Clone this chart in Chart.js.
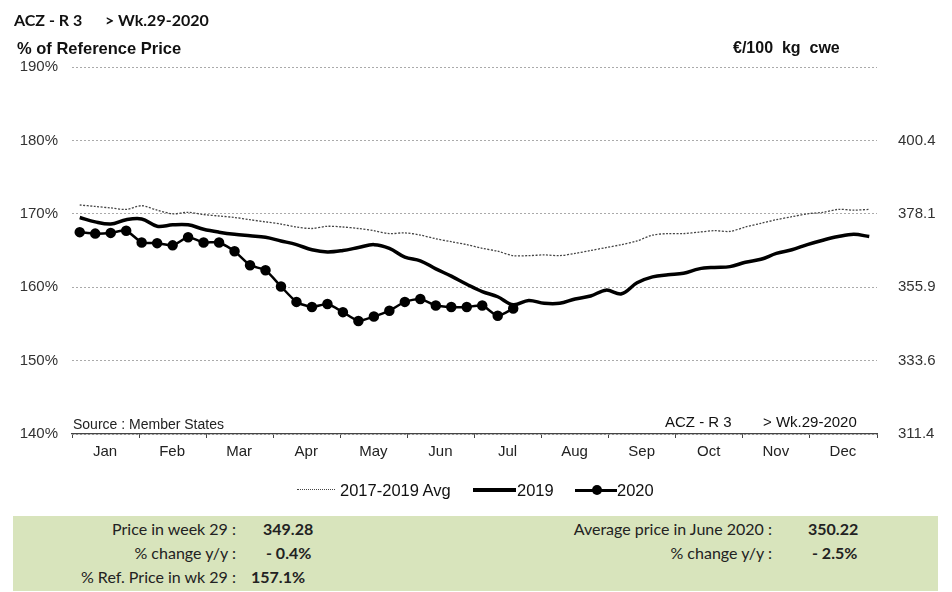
<!DOCTYPE html>
<html>
<head>
<meta charset="utf-8">
<script src="https://cdn.jsdelivr.net/npm/chart.js@4"></script>
<style>
  body { margin: 0; background: #fff; font-family: "Liberation Sans", Arial, sans-serif; }
  #wrap { position: relative; width: 952px; height: 592px; }
  #chart { position: absolute; left: 0; top: 0; }
  .txt { position: absolute; white-space: pre; color: #111; line-height: 1; }
  #info { position: absolute; left: 13px; top: 516px; width: 925px; height: 75px; background: #d8e4bc;
          font-family: Lato, "Open Sans", sans-serif; font-size: 16px; color: #222; }
  #info .lab { position: absolute; text-align: right; white-space: pre; line-height: 1; }
  #info .val { position: absolute; font-weight: bold; white-space: pre; line-height: 1; }
  .leg { position: absolute; }
</style>
</head>
<body>
<div id="wrap">
  <canvas id="chart" width="952" height="592"></canvas>
  <div class="txt" style="left:14px;top:10px;font:bold 16px Lato, sans-serif;">ACZ - R 3</div>
  <div class="txt" style="left:105px;top:10px;font:bold 16px Lato, sans-serif;">&gt; Wk.29-2020</div>
  <div class="txt" style="left:17px;top:39px;font:bold 16.5px 'Liberation Sans', Arial, sans-serif;">% of Reference Price</div>
  <div class="txt" style="left:733px;top:39px;font:bold 16px 'Liberation Sans', Arial, sans-serif;">€/100  kg  cwe</div>
  <div class="txt" style="left:73px;top:416px;font:14px 'Liberation Sans', Arial, sans-serif;color:#222;">Source : Member States</div>
  <div class="txt" style="left:665px;top:413px;font:15px 'Liberation Sans', Arial, sans-serif;">ACZ - R 3</div>
  <div class="txt" style="left:763px;top:413px;font:15px 'Liberation Sans', Arial, sans-serif;">&gt; Wk.29-2020</div>

  <div class="leg" style="left:297px;top:489px;width:38px;border-top:1.5px dotted #444;"></div>
  <div class="txt" style="left:340px;top:481px;font:16.5px 'Liberation Sans', Arial, sans-serif;">2017-2019 Avg</div>
  <div class="leg" style="left:473px;top:488px;width:43px;border-top:4px solid #000;"></div>
  <div class="txt" style="left:517px;top:481px;font:16.5px 'Liberation Sans', Arial, sans-serif;">2019</div>
  <div class="leg" style="left:575px;top:489px;width:42px;border-top:3px solid #000;"></div>
  <div class="leg" style="left:592px;top:485px;width:10px;height:10px;border-radius:50%;background:#000;"></div>
  <div class="txt" style="left:617px;top:481px;font:16.5px 'Liberation Sans', Arial, sans-serif;">2020</div>

  <div id="info">
    <div class="lab" style="right:702px;top:5px;">Price in week 29 :</div>
    <div class="val" style="left:250px;top:5px;">349.28</div>
    <div class="lab" style="right:702px;top:29px;">% change y/y :</div>
    <div class="val" style="left:253px;top:29px;">- 0.4%</div>
    <div class="lab" style="right:702px;top:53px;">% Ref. Price in wk 29 :</div>
    <div class="val" style="left:238px;top:53px;">157.1%</div>
    <div class="lab" style="right:166px;top:5px;">Average price in June 2020 :</div>
    <div class="val" style="left:795px;top:5px;">350.22</div>
    <div class="lab" style="right:166px;top:29px;">% change y/y :</div>
    <div class="val" style="left:799px;top:29px;">- 2.5%</div>
  </div>
</div>
<script>
const months = ['Jan', 'Feb', 'Mar', 'Apr', 'May', 'Jun', 'Jul', 'Aug', 'Sep', 'Oct', 'Nov', 'Dec'];
const weeks = [1,2,3,4,5,6,7,8,9,10,11,12,13,14,15,16,17,18,19,20,21,22,23,24,25,26,
  27,28,29,30,31,32,33,34,35,36,37,38,39,40,41,42,43,44,45,46,47,48,49,50,51,52];

// % of reference price, by week
const avg2017_2019 = [171.2, 171.0, 170.8, 170.6, 171.1, 170.5, 170.0, 170.2, 169.9, 169.7, 169.5, 169.2, 168.9,
  168.6, 168.2, 168.0, 168.3, 168.2, 168.0, 167.7, 167.3, 167.4, 167.1, 166.6, 166.2, 165.8,
  165.3, 164.9, 164.3, 164.3, 164.4, 164.3, 164.6, 165.0, 165.4, 165.8, 166.3, 167.1, 167.3,
  167.3, 167.5, 167.7, 167.6, 168.2, 168.7, 169.2, 169.6, 170.0, 170.2, 170.6, 170.5, 170.6];
const year2019 = [169.5, 168.9, 168.6, 169.2, 169.3, 168.3, 168.5, 168.5, 167.9, 167.5, 167.2, 167.0, 166.8,
  166.3, 165.8, 165.1, 164.8, 165.0, 165.4, 165.8, 165.3, 164.1, 163.6, 162.5, 161.5, 160.4,
  159.4, 158.7, 157.6, 158.2, 157.8, 157.8, 158.4, 158.8, 159.6, 159.1, 160.6, 161.4, 161.7,
  161.9, 162.5, 162.7, 162.8, 163.4, 163.8, 164.6, 165.1, 165.8, 166.4, 166.9, 167.2, 166.9];
const year2020 = [167.5, 167.3, 167.4, 167.7, 166.1, 166.0, 165.7, 166.8, 166.1, 166.1, 164.9, 163.0, 162.3,
  160.1, 158.0, 157.3, 157.7, 156.6, 155.4, 156.0, 156.8, 158.0, 158.4, 157.5, 157.3, 157.3,
  157.5, 156.1, 157.1];

const leftTicks = [140, 150, 160, 170, 180, 190];
const rightTicks = [311.4, 333.6, 355.9, 378.1, 400.4];

function toPoints(values) {
  return values.map((v, i) => ({ x: weeks[i] - 0.5, y: v }));
}

const monthEdges = months.map((m, i) => i * 52 / 12).concat([52]);
const fontTick = { family: "'Liberation Sans', Arial, sans-serif", size: 15 };

new Chart(document.getElementById('chart'), {
  type: 'line',
  data: {
    datasets: [
      {
        label: '2017-2019 Avg',
        data: toPoints(avg2017_2019),
        borderColor: '#444',
        borderWidth: 1.3,
        borderDash: [2, 1.5],
        pointRadius: 0,
        tension: 0.3
      },
      {
        label: '2019',
        data: toPoints(year2019),
        borderColor: '#000',
        borderWidth: 3.5,
        pointRadius: 0,
        tension: 0.35
      },
      {
        label: '2020',
        data: toPoints(year2020),
        borderColor: '#000',
        backgroundColor: '#000',
        borderWidth: 2.5,
        pointRadius: 4,
        pointBackgroundColor: '#000',
        tension: 0.2
      }
    ]
  },
  options: {
    responsive: false,
    animation: false,
    layout: { padding: { top: 67, bottom: 123, left: 0, right: 0 } },
    plugins: { legend: { display: false }, tooltip: { enabled: false } },
    scales: {
      x: {
        type: 'linear',
        min: 0,
        max: 52,
        afterBuildTicks: axis => { axis.ticks = monthEdges.map(v => ({ value: v })); },
        afterFit: axis => { axis.height = 35; },
        ticks: {
          autoSkip: false,
          maxRotation: 0,
          labelOffset: 33,
          padding: 5,
          color: '#222',
          font: fontTick,
          callback: (v, i) => months[i] || ''
        },
        grid: { drawOnChartArea: false, drawTicks: true, tickLength: 4, color: '#444' },
        border: { display: true, color: '#444', dash: [1, 1], width: 1.2 }
      },
      y: {
        position: 'left',
        min: 140,
        max: 190,
        afterBuildTicks: axis => { axis.ticks = leftTicks.map(v => ({ value: v })); },
        afterFit: axis => { axis.width = 72; },
        ticks: {
          color: '#333',
          font: fontTick,
          padding: 14,
          callback: v => v + '%'
        },
        grid: { color: '#aaa', lineWidth: 1, drawTicks: false },
        border: { display: false, dash: [2, 2] }
      },
      y2: {
        position: 'right',
        min: 311.4,
        max: 422.65,
        afterBuildTicks: axis => { axis.ticks = rightTicks.map(v => ({ value: v })); },
        afterFit: axis => { axis.width = 75; },
        ticks: { color: '#333', font: fontTick, padding: 13, callback: v => v.toFixed(1) },
        grid: { display: false },
        border: { display: false }
      }
    }
  }
});
</script>
</body>
</html>
